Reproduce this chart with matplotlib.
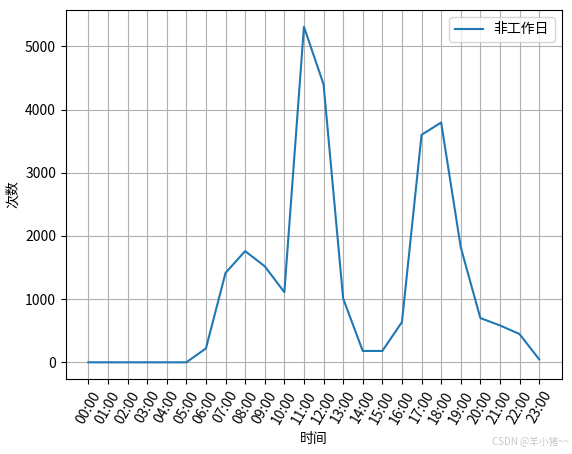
import matplotlib
matplotlib.use("Agg")
import matplotlib.pyplot as plt

plt.rcParams['font.family'] = ['Noto Sans CJK SC', 'DejaVu Sans']
plt.rcParams['axes.unicode_minus'] = False

hours = ["%02d:00" % h for h in range(24)]
counts = [0, 0, 0, 0, 0, 0, 220, 1415, 1760, 1520, 1110, 5310, 4400, 1010,
          180, 180, 637, 3600, 3795, 1820, 700, 584, 447, 47]

fig = plt.figure(figsize=(5.72, 4.54), dpi=100)
ax = fig.add_axes([0.115, 0.165, 0.867, 0.813])

ax.plot(hours, counts, label="非工作日")
ax.set_xlabel("时间")
ax.set_ylabel("次数")
ax.tick_params(axis='x', rotation=60)
ax.legend(loc='upper right')
ax.grid(True)

fig.text(0.995, 0.015, "CSDN @羊小猪~~", ha='right', va='bottom',
         fontsize=7, color='#c8c8c8')

fig.savefig("out.png", dpi=100)
